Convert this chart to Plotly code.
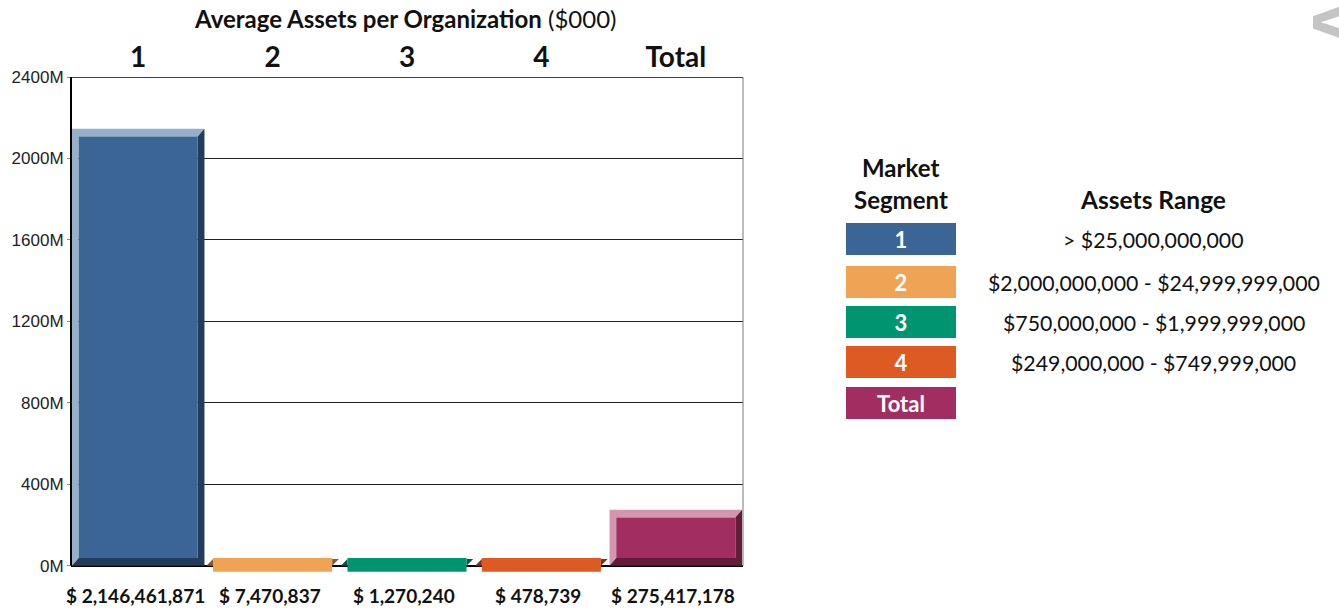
import plotly.graph_objects as go

# ---------------- data ----------------
categories = ["1", "2", "3", "4", "Total"]
values = [2146461871, 7470837, 1270240, 478739, 275417178]
face_colors = ["#3A6594", "#EFA354", "#009571", "#DD5A22", "#A22D60"]
light_colors = ["#97AFC9", "#F5C89A", "#7FCAB7", "#EEAD90", "#D396B0"]
dark_colors = ["#243C5C", "#8A5A2A", "#005A42", "#7E3312", "#631B3A"]
y_tickvals = [0, 400e6, 800e6, 1200e6, 1600e6, 2000e6, 2400e6]
y_ticktext = ["0M", "400M", "800M", "1200M", "1600M", "2000M", "2400M"]
range_labels = ["> $25,000,000,000", "$2,000,000,000 - $24,999,999,000",
                "$750,000,000 - $1,999,999,000", "$249,000,000 - $749,999,000", ""]
title_bold = "Average Assets per Organization"
title_unit = "($000)"

# ---------------- layout geometry ----------------
W, H = 1339, 611
ML, MR, MT, MB = 69, 596, 77, 37
PW, PH = W - ML - MR, H - MT - MB
Y_MIN, Y_MAX = -40e6, 2400e6


def px(X):
    return (X - ML) / PW


def py(Y):
    return (H - MB - Y) / PH


FONT = "Lato"
HW = 0.493      # half width of bar (category units)
DX = 0.05       # bevel width (category units)
DY = 38e6       # bevel height (data units)

fig = go.Figure()


def poly(xs, ys, color):
    fig.add_trace(go.Scatter(x=xs + [xs[0]], y=ys + [ys[0]], mode="lines",
                             fill="toself", fillcolor=color,
                             line=dict(width=0, color=color),
                             hoverinfo="skip", showlegend=False))


for i, v in enumerate(values):
    L, R = i - HW, i + HW
    Li, Ri = L + DX, R - DX
    if v > 2 * DY:
        T = v - DY
        B = DY
        # light top + left bevel
        poly([L, L, R, Ri, Li, Li], [0, v, v, T, T, B], light_colors[i])
        # dark right + bottom bevel
        poly([R, R, L, Li, Ri, Ri], [v, 0, 0, B, B, T], dark_colors[i])
        # face
        poly([Li, Ri, Ri, Li], [B, B, T, T], face_colors[i])
    else:
        # flat rendering of very small bars
        poly([L, Li, Li], [0, DY * 0.9, 0], dark_colors[i])
        poly([Ri, R, Ri], [0, DY * 0.9, DY * 0.9], dark_colors[i])
        poly([Li, Ri, Ri, Li], [-0.75 * DY, -0.75 * DY, DY, DY], face_colors[i])
        poly([Li, Ri, Ri, Li], [DY * 0.92, DY * 0.92, DY, DY], light_colors[i])

annotations = []
# title
annotations.append(dict(xref="paper", yref="paper", x=px(404), y=py(19),
                        text=f"<b>{title_bold}</b> {title_unit}", showarrow=False,
                        font=dict(family=FONT, size=24, color="#111111"),
                        xanchor="center", yanchor="middle"))
# bottom value labels
for i, v in enumerate(values):
    annotations.append(dict(xref="x", yref="paper", x=i, y=py(595),
                            text=f"<b>$ {v:,}</b>", showarrow=False,
                            font=dict(family=FONT, size=19, color="#111111"),
                            xanchor="center", yanchor="middle", xshift=-3))
# legend headers
annotations.append(dict(xref="paper", yref="paper", x=px(901), y=py(167), text="<b>Market</b>",
                        showarrow=False, font=dict(family=FONT, size=24, color="#111111"),
                        xanchor="center", yanchor="middle"))
annotations.append(dict(xref="paper", yref="paper", x=px(901), y=py(200), text="<b>Segment</b>",
                        showarrow=False, font=dict(family=FONT, size=24, color="#111111"),
                        xanchor="center", yanchor="middle"))
annotations.append(dict(xref="paper", yref="paper", x=px(1154), y=py(200), text="<b>Assets Range</b>",
                        showarrow=False, font=dict(family=FONT, size=24.5, color="#111111"),
                        xanchor="center", yanchor="middle"))
box_centers = [239, 282, 322, 362, 403]
for i, c in enumerate(categories):
    annotations.append(dict(xref="paper", yref="paper", x=px(901), y=py(box_centers[i]),
                            text=f"<b>{c}</b>", showarrow=False, width=106, height=28,
                            bgcolor=face_colors[i], borderpad=2, borderwidth=0,
                            font=dict(family=FONT, size=22, color="white"),
                            xanchor="center", yanchor="middle", align="center", valign="middle"))
    if range_labels[i]:
        annotations.append(dict(xref="paper", yref="paper", x=px(1155), y=py(box_centers[i] + 1),
                                text=range_labels[i], showarrow=False,
                                font=dict(family=FONT, size=21.3, color="#111111"),
                                xanchor="center", yanchor="middle"))
# watermark letter at top right (partly cut off at the page edge, as in the reference)
annotations.append(dict(xref="paper", yref="paper", x=px(1340), y=py(22), text="<b>A</b>",
                        showarrow=False, textangle=-90,
                        font=dict(family="Liberation Sans", size=72, color="#C4C4C4"),
                        xanchor="center", yanchor="middle"))

shapes = [
    # left axis line
    dict(type="line", xref="paper", yref="y", x0=0, x1=0, y0=0, y1=Y_MAX,
         line=dict(color="black", width=2)),
    # top border
    dict(type="line", xref="paper", yref="y", x0=0, x1=1, y0=Y_MAX, y1=Y_MAX,
         line=dict(color="black", width=1.5)),
    # right border
    dict(type="line", xref="paper", yref="y", x0=1, x1=1, y0=0, y1=Y_MAX,
         line=dict(color="#777777", width=1)),
]

fig.update_layout(
    width=W, height=H,
    margin=dict(l=ML, r=MR, t=MT, b=MB, pad=0),
    paper_bgcolor="white", plot_bgcolor="white",
    showlegend=False,
    annotations=annotations,
    shapes=shapes,
    xaxis=dict(range=[-0.5, 4.5], side="top", tickmode="array",
               tickvals=list(range(len(categories))),
               ticktext=[f"<b>{c}</b>" for c in categories],
               tickfont=dict(family=FONT, size=28, color="#111111"),
               ticklabelstandoff=3,
               showgrid=False, zeroline=False, showline=False, ticks="",
               fixedrange=True),
    yaxis=dict(range=[Y_MIN, Y_MAX], tickmode="array", tickvals=y_tickvals,
               ticktext=y_ticktext,
               tickfont=dict(family="Liberation Sans", size=17, color="#222222"),
               showgrid=True, gridcolor="#222222", gridwidth=1,
               zeroline=True, zerolinecolor="black", zerolinewidth=1.5,
               showline=False, ticks="outside", ticklen=3, tickcolor="#888888",
               fixedrange=True),
)

fig.write_html("out.html", config={"displayModeBar": False},
               post_script="document.body.style.margin='0px';document.body.style.overflow='hidden';")
